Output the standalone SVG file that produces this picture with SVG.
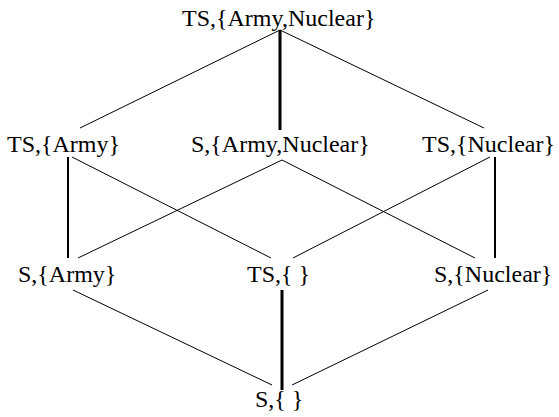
<svg xmlns="http://www.w3.org/2000/svg" width="559" height="417" viewBox="0 0 559 417">
<style>
text{font-family:"Liberation Serif","Times New Roman",serif;font-size:24px;fill:#000}
.t{stroke:#000;stroke-width:1;fill:none}
.m{stroke:#000;stroke-width:2;fill:none}
.k{stroke:#000;stroke-width:3;fill:none}
</style>
<rect width="559" height="417" fill="#fff"/>
<g id="connectors">
<line class="t" x1="280" y1="30" x2="80" y2="128"/>
<line class="t" x1="280" y1="30" x2="484" y2="128"/>
<line class="k" x1="280" y1="30" x2="280" y2="130"/>
<line class="m" x1="68" y1="157" x2="68" y2="258"/>
<line class="t" x1="72" y1="157" x2="271" y2="258"/>
<line class="t" x1="282" y1="160" x2="78" y2="258"/>
<line class="t" x1="282" y1="160" x2="475" y2="258"/>
<line class="m" x1="495" y1="157" x2="495" y2="258"/>
<line class="t" x1="490" y1="157" x2="293" y2="258"/>
<line class="t" x1="73" y1="290" x2="272" y2="385"/>
<line class="k" x1="282" y1="290" x2="282" y2="390"/>
<line class="t" x1="488" y1="290" x2="292" y2="385"/>
</g>
<g id="n-ts-army-nuclear"><text x="182" y="26">TS,{Army,Nuclear}</text></g>
<g id="n-ts-army"><text x="7" y="152">TS,{Army}</text></g>
<g id="n-s-army-nuclear"><text x="191" y="152">S,{Army,Nuclear}</text></g>
<g id="n-ts-nuclear"><text x="422" y="152">TS,{Nuclear}</text></g>
<g id="n-s-army"><text x="18" y="282">S,{Army}</text></g>
<g id="n-ts-empty"><text x="247" y="282">TS,{ }</text></g>
<g id="n-s-nuclear"><text x="434" y="282">S,{Nuclear}</text></g>
<g id="n-s-empty"><text x="255" y="407">S,{ }</text></g>
</svg>
